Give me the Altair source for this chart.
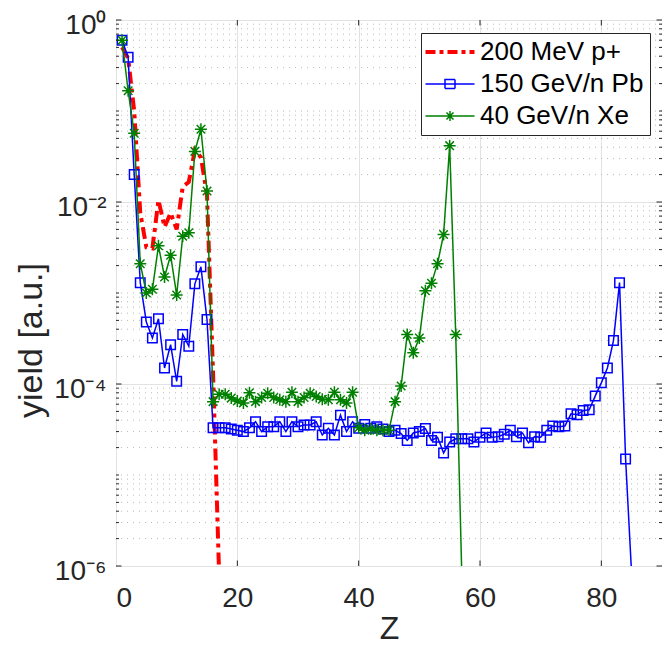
import altair as alt
import pandas as pd

# ---------------- data ----------------
series_names = ["200 MeV p+", "150 GeV/n Pb", "40 GeV/n Xe"]

z_proton = list(range(1, 18))
yield_proton = [0.5, 0.38, 0.10, 0.0076, 0.0032, 0.0031, 0.0105, 0.0053, 0.0076,
                0.005, 0.0147, 0.0166, 0.037, 0.031, 0.012, 1.3e-4, 8e-7]

z_pb = list(range(1, 86))
yield_pb = [0.6, 0.39, 0.020, 1.3e-3, 4.8e-4, 3.2e-4, 5.2e-4, 1.5e-4, 2.7e-4, 1.07e-4,
            3.5e-4, 2.6e-4, 1.26e-3, 1.94e-3, 5.1e-4, 3.3e-5, 3.3e-5, 3.3e-5, 3.2e-5, 3.1e-5,
            3.0e-5, 3.3e-5, 3.85e-5, 3.0e-5, 3.4e-5, 3.4e-5, 3.85e-5, 3.0e-5, 3.85e-5, 3.4e-5,
            3.55e-5, 3.55e-5, 3.85e-5, 2.75e-5, 3.26e-5, 2.75e-5, 4.55e-5, 3.0e-5, 3.85e-5, 3.26e-5,
            3.6e-5, 3.26e-5, 3.4e-5, 3.2e-5, 3.0e-5, 3.1e-5, 2.85e-5, 2.4e-5, 2.9e-5, 3.0e-5,
            3.25e-5, 2.4e-5, 2.6e-5, 1.75e-5, 2.3e-5, 2.5e-5, 2.5e-5, 2.5e-5, 2.3e-5, 2.6e-5,
            2.9e-5, 2.6e-5, 2.64e-5, 2.8e-5, 3.1e-5, 2.64e-5, 2.9e-5, 2.26e-5, 2.64e-5, 2.6e-5,
            3.1e-5, 3.46e-5, 3.4e-5, 3.46e-5, 4.7e-5, 4.6e-5, 5.1e-5, 5.2e-5, 7.4e-5, 1.03e-4,
            1.5e-4, 3.0e-4, 1.3e-3, 1.5e-5, 8e-7]

z_xe = list(range(1, 58))
yield_xe = [0.6, 0.167, 0.057, 2.1e-3, 1.0e-3, 1.1e-3, 3.3e-3, 1.5e-3, 2.6e-3, 9.5e-4,
            4.2e-3, 4.6e-3, 0.036, 0.063, 0.0132, 6.4e-5, 7.7e-5, 7.7e-5, 7.0e-5, 6.5e-5,
            6.2e-5, 8.0e-5, 6.4e-5, 7.1e-5, 7.9e-5, 7.1e-5, 6.7e-5, 6.4e-5, 8.1e-5, 6.4e-5,
            7.1e-5, 7.9e-5, 7.3e-5, 6.8e-5, 6.7e-5, 8.1e-5, 6.7e-5, 6.2e-5, 8.1e-5, 3.3e-5,
            3.1e-5, 3.2e-5, 3.1e-5, 3.1e-5, 3.1e-5, 6.4e-5, 9.5e-5, 3.5e-4, 2.2e-4, 3.2e-4,
            1.06e-3, 1.28e-3, 2.1e-3, 4.4e-3, 0.0416, 3.5e-4, 8e-7]

x_ticks = [0, 20, 40, 60, 80]
x_minor_ticks = [20, 40, 60, 80]
y_major = [1e-6, 1e-4, 1e-2, 1.0]
y_minor = [m * 10.0 ** k for k in range(-6, 0) for m in range(1, 10)
           if not (m == 1 and k % 2 == 0)]

# ---------------- styling ----------------
W, H = 546, 546
FONT = "Liberation Sans"
INK = "#262626"
colors = ["#ff0000", "#0000ff", "#008000"]
STAR = "M0,-1L0,1M-1,0L1,0M-0.71,-0.71L0.71,0.71M-0.71,0.71L0.71,-0.71"
legend_shapes = [
    "M-2.9,-0.25L6.9,-0.25M-2.9,0L6.9,0M-2.9,0.25L6.9,0.25",
    "M-2.9,0L6.9,0M1,-0.9L3,-0.9L3,0.9L1,0.9Z",
    "M-2.9,0L6.9,0M2,-1L2,1M1,0L3,0M1.3,-0.7L2.7,0.7M1.3,0.7L2.7,-0.7",
]
legend_dash = [[10, 4, 4, 4], [1, 0], [1, 0]]

xscale = alt.Scale(domain=[0, 90], nice=False, zero=False)
yscale = alt.Scale(type="log", domain=[1e-6, 1], nice=False)

xaxis = alt.Axis(values=x_ticks, grid=True, ticks=False, domain=False,
                 labelFontSize=28, labelPadding=18, labelColor=INK,
                 title="Z", titleFontSize=32, titleFontWeight="normal", titleColor=INK,
                 titleBaseline="alphabetic", titleY=72)
yaxis = alt.Axis(values=y_major, grid=True, ticks=False, domain=False,
                 labelFontSize=28, labelPadding=10, labelColor=INK, labelOffset=5,
                 labelExpr="datum.value >= 0.5 ? '10⁰' : datum.value >= 0.005 ? '10⁻²' : datum.value >= 0.00005 ? '10⁻⁴' : '10⁻⁶'",
                 title="yield [a.u.]", titleFontSize=34, titleFontWeight="normal", titleColor=INK,
                 titleAngle=270, titleAlign="center", titleBaseline="alphabetic",
                 titleX=-75, titleY=320)

X = alt.X("Z:Q", scale=xscale, axis=xaxis)
Y = alt.Y("y:Q", scale=yscale, axis=yaxis)

df_p = pd.DataFrame({"Z": z_proton, "y": yield_proton})
df_pb = pd.DataFrame({"Z": z_pb, "y": yield_pb})
df_xe = pd.DataFrame({"Z": z_xe, "y": yield_xe})
df_ymin = pd.DataFrame({"y": y_minor})
df_ymaj = pd.DataFrame({"y": y_major})
df_xt = pd.DataFrame({"Z": x_minor_ticks})
df_leg = pd.DataFrame({"Z": [45, 45, 45], "y": [1e-9] * 3, "series": series_names})

minor_grid = alt.Chart(df_ymin).mark_rule(color="#b8b8b8", strokeDash=[1, 5], strokeWidth=1).encode(y=Y)

red = alt.Chart(df_p).mark_line(color=colors[0], strokeWidth=4, strokeDash=[12, 5, 4, 5], clip=True).encode(x=X, y=Y)
blue_line = alt.Chart(df_pb).mark_line(color=colors[1], strokeWidth=1.5, clip=True).encode(x=X, y=Y)
blue_pts = alt.Chart(df_pb).mark_point(shape="square", size=90, filled=False, color=colors[1],
                                       strokeWidth=1.5, opacity=1, clip=True).encode(x=X, y=Y)
green_line = alt.Chart(df_xe).mark_line(color=colors[2], strokeWidth=1.5, clip=True).encode(x=X, y=Y)
green_pts = alt.Chart(df_xe).mark_point(shape=STAR, size=144, filled=False, color=colors[2],
                                        strokeWidth=1.5, opacity=1, clip=True).encode(x=X, y=Y)

leg = alt.Legend(title=None)
legend_layer = alt.Chart(df_leg).mark_point(filled=False, strokeWidth=1.5, opacity=1, clip=True, size=100).encode(
    x=X, y=Y,
    color=alt.Color("series:N", scale=alt.Scale(domain=series_names, range=colors), legend=leg),
    shape=alt.Shape("series:N", scale=alt.Scale(domain=series_names, range=legend_shapes), legend=leg),
    strokeDash=alt.StrokeDash("series:N", scale=alt.Scale(domain=series_names, range=legend_dash), legend=leg),
)

tick_style = dict(color=INK, strokeWidth=1)
yl_maj = alt.Chart(df_ymaj).mark_rule(**tick_style).encode(y=Y, x=alt.value(0), x2=alt.value(5.5))
yr_maj = alt.Chart(df_ymaj).mark_rule(**tick_style).encode(y=Y, x=alt.value(W), x2=alt.value(W - 5.5))
yl_min = alt.Chart(df_ymin).mark_rule(**tick_style).encode(y=Y, x=alt.value(0), x2=alt.value(3))
yr_min = alt.Chart(df_ymin).mark_rule(**tick_style).encode(y=Y, x=alt.value(W), x2=alt.value(W - 3))
xb = alt.Chart(df_xt).mark_rule(**tick_style).encode(x=X, y=alt.value(H), y2=alt.value(H - 5.5))
xt = alt.Chart(df_xt).mark_rule(**tick_style).encode(x=X, y=alt.value(0), y2=alt.value(5.5))

chart = alt.layer(
    minor_grid, red, blue_line, blue_pts, green_line, green_pts, legend_layer,
    yl_maj, yr_maj, yl_min, yr_min, xb, xt,
).properties(
    width=W, height=H,
    autosize=alt.AutoSizeParams(type="none"),
    padding={"left": 108, "top": 12, "right": 0, "bottom": 80},
).configure(
    font=FONT,
).configure_view(
    stroke=INK, strokeWidth=1,
).configure_axis(
    gridColor="#e2e2e2", gridWidth=1, labelFont=FONT, titleFont=FONT,
).configure_legend(
    orient="none", legendX=305, legendY=13,
    fillColor="white", strokeColor=INK, padding=6,
    labelFontSize=26, labelFont=FONT, labelColor="#000000", labelLimit=400,
    labelOffset=27, symbolSize=100, symbolStrokeWidth=1.5, rowPadding=6,
)

chart.save("out.html", embed_options={"renderer": "svg", "actions": False})
